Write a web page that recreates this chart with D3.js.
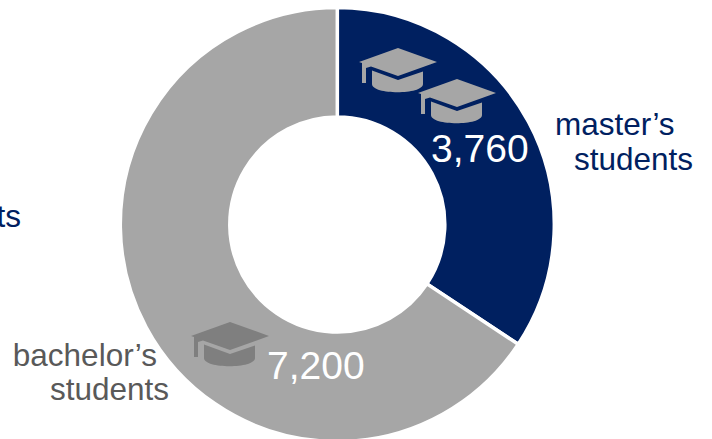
<!DOCTYPE html>
<html>
<head>
	<meta charset="utf-8" />
	<script src="https://cdn.jsdelivr.net/npm/d3@7"></script>
	<style type="text/css">
	html, body { margin: 0; padding: 0; background: #FFFFFF; overflow: hidden; }
	svg { display: block; }
	text { font-family: "Liberation Sans", Arial, sans-serif; }
	</style>
</head>
<body>
	<svg id="chart" width="712" height="439"></svg>

	<script type="text/javascript">
		var categories = ["master’s students", "bachelor’s students"];
		var values     = [3760, 7200];

		var cx = 337.3;
		var cy = 224.5;

		var svg = d3.select("#chart");

		var pie = d3.pie().sort(null);
		var arc = d3.arc().innerRadius(107.5).outerRadius(217);
		var sliceColor = d3.scaleOrdinal().domain(categories).range(["#002060", "#A6A6A6"]);

		svg.append("g")
			.attr("transform", "translate(" + cx + "," + cy + ")")
			.selectAll("path")
			.data(pie(values))
			.join("path")
			.attr("d", arc)
			.attr("fill", function(d, i) { return sliceColor(categories[i]); })
			.attr("stroke", "#FFFFFF")
			.attr("stroke-width", 3.5);

		// mortarboard icon, drawn around the middle of the board
		function drawCap(x, y, color)
		{
			var g = svg.append("g")
				.attr("transform", "translate(" + x + "," + y + ")")
				.attr("fill", color);

			// board
			g.append("path").attr("d", "M-39,0 L0,-14 L39,0 L0,14 L-27,4.5 L-32,6 L-32,2.5 L-36,2.5 L-36,1 Z");
			// tassel
			g.append("path").attr("d", "M-36,1 L-32,1 L-32,21 L-36,21 Z");
			// base of the cap
			g.append("path").attr("d", "M-26,8.5 L0,18 L25,9.5 L25,22 C25,33 -26,33 -26,22 Z");
		}

		drawCap(398, 62, "#A6A6A6");
		drawCap(457, 93, "#A6A6A6");
		drawCap(230, 336, "#7F7F7F");

		function addText(str, x, y, size, color, anchor)
		{
			svg.append("text")
				.attr("x", x)
				.attr("y", y)
				.attr("font-size", size)
				.attr("fill", color)
				.attr("text-anchor", anchor)
				.text(str);
		}

		var fmt = d3.format(",");
		addText(fmt(values[0]), 431, 162, 39, "#FFFFFF", "start");
		addText(fmt(values[1]), 267, 379, 39, "#FFFFFF", "start");

		addText("master’s", 555, 135, 31.5, "#002060", "start");
		addText("students", 574, 170, 31.5, "#002060", "start");

		addText("bachelor’s", 157, 366, 31.5, "#595959", "end");
		addText("students", 169, 400, 31.5, "#595959", "end");

		// label of a third group, cut off by the left edge of the picture
		addText("students", 21, 227, 31.5, "#002060", "end");
	</script>
</body>
</html>
